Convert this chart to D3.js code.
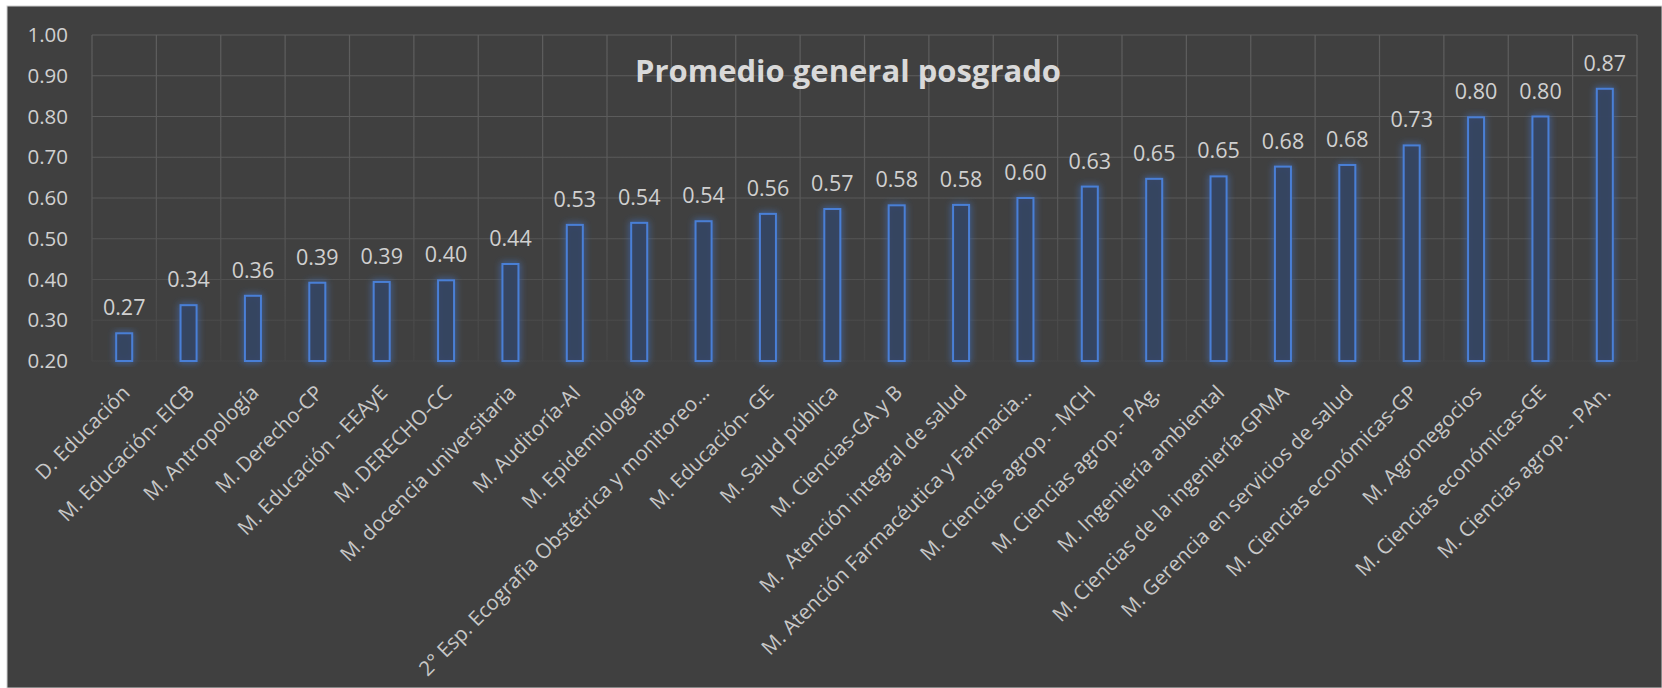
<!DOCTYPE html>
<html>
<head>
<meta charset="utf-8">
<script src="https://cdn.jsdelivr.net/npm/d3@7"></script>
<style>
  html, body { margin: 0; padding: 0; background: #ffffff; }
  svg { display: block; font-family: "Open Sans", "DejaVu Sans", sans-serif; }
</style>
</head>
<body>
<svg id="chart" width="1662" height="688"></svg>
<script>
// Data
var categories = [
  "D. Educación", "M. Educación- EICB", "M. Antropología", "M. Derecho-CP",
  "M. Educación - EEAyE", "M. DERECHO-CC", "M. docencia universitaria", "M. Auditoría-AI",
  "M. Epidemiología", "2° Esp. Ecografia Obstétrica y monitoreo…", "M. Educación- GE", "M. Salud pública",
  "M. Ciencias-GA y B", "M.  Atención integral de salud", "M. Atención Farmacéutica y Farmacia…", "M. Ciencias agrop. - MCH",
  "M. Ciencias agrop.- PAg.", "M. Ingeniería ambiental", "M. Ciencias de la ingeniería-GPMA", "M. Gerencia en servicios de salud",
  "M. Ciencias económicas-GP", "M. Agronegocios", "M. Ciencias económicas-GE", "M. Ciencias agrop. - PAn."
];
var values = [
  0.268, 0.337, 0.360, 0.392, 0.394, 0.398, 0.438, 0.534,
  0.539, 0.543, 0.561, 0.573, 0.582, 0.583, 0.600, 0.628,
  0.647, 0.653, 0.677, 0.681, 0.729, 0.798, 0.800, 0.868
];
var yTicks = [0.2, 0.3, 0.4, 0.5, 0.6, 0.7, 0.8, 0.9, 1.0];
var title = "Promedio general posgrado";

var W = 1662, H = 688;
var svg = d3.select("#chart");

// chart area background
svg.append("rect").attr("x", 7).attr("y", 6).attr("width", W - 7).attr("height", H - 6)
  .attr("fill", "#404040").attr("stroke", "#d0d0d0").attr("stroke-width", 1);

var x = d3.scaleBand().domain(categories).range([92, 1637]).padding(0);
var y = d3.scaleLinear().domain([0.2, 1.0]).range([361, 35]);

var defs = svg.append("defs");
var grad = defs.append("linearGradient").attr("id", "gridGrad")
  .attr("gradientUnits", "userSpaceOnUse").attr("x1", 0).attr("y1", y(1)).attr("x2", 0).attr("y2", y(0.2));
grad.append("stop").attr("offset", "0%").attr("stop-color", "#5e5e5e");
grad.append("stop").attr("offset", "55%").attr("stop-color", "#585858");
grad.append("stop").attr("offset", "100%").attr("stop-color", "#454545");

var glow = defs.append("filter").attr("id", "glow")
  .attr("x", "-100%").attr("y", "-20%").attr("width", "300%").attr("height", "140%");
glow.append("feGaussianBlur").attr("in", "SourceGraphic").attr("stdDeviation", 3.5).attr("result", "b");
var merge = glow.append("feMerge");
merge.append("feMergeNode").attr("in", "b");
merge.append("feMergeNode").attr("in", "SourceGraphic");

// gridlines
var grid = svg.append("g").attr("stroke", "url(#gridGrad)").attr("stroke-width", 1.2);
grid.selectAll("line.h").data(yTicks).enter().append("line")
  .attr("x1", x.range()[0]).attr("x2", x.range()[1])
  .attr("y1", function(d) { return y(d); }).attr("y2", function(d) { return y(d); });
var bounds = categories.map(function(c) { return x(c); }).concat([x.range()[1]]);
grid.selectAll("line.v").data(bounds).enter().append("line")
  .attr("x1", function(d) { return d; }).attr("x2", function(d) { return d; })
  .attr("y1", y(1)).attr("y2", y(0.2));

// y axis labels
var yAxis = d3.axisLeft(y).tickValues(yTicks).tickFormat(d3.format(".2f")).tickSize(0).tickPadding(24);
var ya = svg.append("g").attr("transform", "translate(92,0)").call(yAxis);
ya.select(".domain").remove();
ya.selectAll("text").attr("fill", "#d0d0d0").attr("font-size", 20.5).attr("font-family", "Open Sans");

// title
svg.append("text").attr("x", 848).attr("y", 82).attr("text-anchor", "middle")
  .attr("font-size", 31).attr("font-weight", "bold").attr("fill", "#d9d9d9").text(title);

// bars
var bw = 16;
svg.append("g").selectAll("rect").data(values).enter().append("rect")
  .attr("x", function(d, i) { return x(categories[i]) + x.bandwidth() / 2 - bw / 2; })
  .attr("y", function(d) { return y(d); })
  .attr("width", bw)
  .attr("height", function(d) { return y(0.2) - y(d); })
  .attr("fill", "#35445f").attr("fill-opacity", 0.9)
  .attr("stroke", "#4a7fd6").attr("stroke-width", 2)
  .attr("filter", "url(#glow)");

// data labels
svg.append("g").selectAll("text").data(values).enter().append("text")
  .attr("x", function(d, i) { return x(categories[i]) + x.bandwidth() / 2; })
  .attr("y", function(d) { return y(d) - 18; })
  .attr("text-anchor", "middle").attr("font-size", 21.5).attr("fill", "#d0d0d0")
  .text(function(d) { return d3.format(".2f")(d); });

// x axis labels
var xAxis = d3.axisBottom(x).tickSize(0).tickPadding(0);
var xa = svg.append("g").attr("transform", "translate(0," + y(0.2) + ")").call(xAxis);
xa.select(".domain").remove();
xa.selectAll("text")
  .attr("font-size", 20.5).attr("font-family", "Open Sans").attr("fill", "#c8c8c8")
  .attr("text-anchor", "end")
  .attr("dy", 0)
  .attr("y", 0)
  .attr("transform", "translate(7,33) rotate(-45)")
  .style("white-space", "pre");
</script>
</body>
</html>
